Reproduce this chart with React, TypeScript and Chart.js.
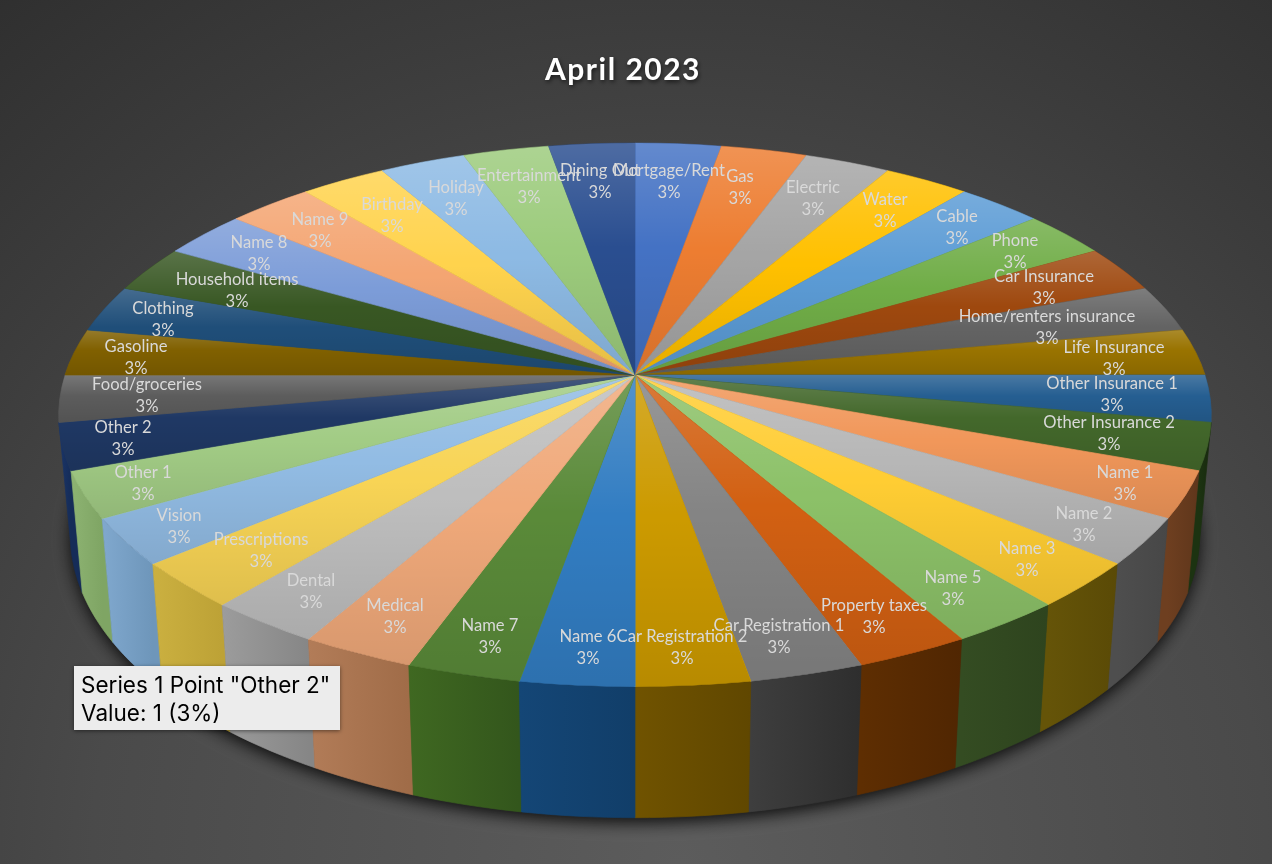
import React, { useEffect, useRef } from "react";
import { Chart, registerables } from "chart.js";

Chart.register(...registerables);

const categories = [
  "Mortgage/Rent", "Gas", "Electric", "Water", "Cable", "Phone", "Car Insurance", "Home/renters insurance",
  "Life Insurance", "Other Insurance 1", "Other Insurance 2", "Name 1", "Name 2", "Name 3", "Name 5",
  "Property taxes", "Car Registration 1", "Car Registration 2", "Name 6", "Name 7", "Medical", "Dental",
  "Prescriptions", "Vision", "Other 1", "Other 2", "Food/groceries", "Gasoline", "Clothing", "Household items",
  "Name 8", "Name 9", "Birthday", "Holiday", "Entertainment", "Dining Out",
];
const values = [1, 1, 1, 1, 1, 1, 1, 1, 1, 1, 1, 1, 1, 1, 1, 1, 1, 1, 1, 1, 1, 1, 1, 1, 1, 1, 1, 1, 1, 1, 1, 1, 1, 1, 1, 1];
const sliceColors = [
  "#4472C4", "#ED7D31", "#A5A5A5", "#FFC000", "#5B9BD5", "#70AD47", "#9E480E", "#636363", "#997300", "#255E91",
  "#43682B", "#F1975A", "#B7B7B7", "#FFCD33", "#8CC168", "#D26012", "#848484", "#CC9A00", "#327DC2", "#5A8A39",
  "#F0A97A", "#BEBEBE", "#F8D455", "#92BCE4", "#A2CC85", "#1F3864", "#5C5C5C", "#806000", "#1F4E79", "#385723",
  "#7C9CD8", "#F4A572", "#FFD34D", "#8DBAE4", "#9CCB7C", "#2A4E90",
];
// side wall colours for slices "Other Insurance 2" .. "Other 2" (the ones that face the viewer)
const firstWall = 10;
const wallLeft = [
  "#1C3311", "#6E3F20", "#4E4E4E", "#655408", "#344C22", "#5E2E02", "#3E3E3E", "#705300",
  "#144676", "#3F6821", "#B27C58", "#9C9C9C", "#CBB040", "#80A8CE", "#8DB372", "#1A3568",
];
const wallRight = [
  "#18290E", "#5F361B", "#474747", "#5A4A06", "#2E441E", "#502602", "#2E2E2E", "#604700",
  "#113E69", "#33561C", "#A06C48", "#868686", "#BDA236", "#6E96BA", "#7FA564", "#152C58",
];
// label layout: centre x, first-line y
const labelX = [669, 740, 813, 885, 957, 1015, 1044, 1047, 1114, 1112, 1109, 1125, 1084, 1027, 953, 874, 779, 682, 588, 490, 395, 311, 261, 179, 143, 123, 147, 136, 163, 237, 259, 320, 392, 456, 529, 600];
const labelY = [171, 177, 188, 200, 217, 241, 277, 317, 348, 384, 423, 473, 514, 549, 578, 606, 626, 637, 637, 626, 606, 581, 540, 516, 473, 428, 385, 347, 309, 280, 243, 220, 205, 188, 176, 171];
const tooltipCategory = "Other 2";
const titleText = "April 2023";

// perspective of the disc
const cx = 635, cy = 375, Rx = 570, Ry = 266, k = 0.147;
const project = (a: number, f = 1) => {
  const u = Math.cos(a) * f, v = Math.sin(a) * f, w = 1 / (1 - k * v);
  return { x: cx + Rx * u * w, y: cy + Ry * v * w };
};
const lower = (p: { x: number; y: number }) => ({ x: cx + 0.98 * (p.x - cx), y: 1.042 * p.y + 102 });

const disc3d = {
  id: "disc3d",
  beforeDraw(chart: any) {
    const { ctx, width, height } = chart;
    const g = ctx.createRadialGradient(680, 864, 0, 680, 864, 1130);
    g.addColorStop(0, "#5c5c5c");
    g.addColorStop(0.52, "#4a4a4a");
    g.addColorStop(0.75, "#3c3c3c");
    g.addColorStop(1, "#2e2e2e");
    ctx.fillStyle = g;
    ctx.fillRect(0, 0, width, height);
    ctx.shadowColor = "rgba(0,0,0,0.6)";
    ctx.shadowBlur = 4;
    ctx.shadowOffsetX = 1;
    ctx.shadowOffsetY = 2;
    ctx.letterSpacing = "1.5px";
  },
  beforeDatasetsDraw(chart: any) {
    const { ctx } = chart;
    ctx.shadowColor = "transparent";
    ctx.shadowBlur = 0;
    ctx.shadowOffsetX = 0;
    ctx.shadowOffsetY = 0;
    ctx.letterSpacing = "0px";
  },
  beforeDatasetDraw(chart: any) {
    const { ctx } = chart;
    const arcs = chart.getDatasetMeta(0).data;

    // ground shadow below the drum
    ctx.save();
    ctx.shadowColor = "rgba(10,10,10,0.95)";
    ctx.shadowBlur = 16;
    ctx.shadowOffsetY = 5;
    ctx.fillStyle = "#222";
    ctx.beginPath();
    for (let i = 0; i <= 180; i++) {
      const p = lower(project((i / 180) * Math.PI * 2));
      i ? ctx.lineTo(p.x, p.y) : ctx.moveTo(p.x, p.y);
    }
    ctx.closePath();
    ctx.fill();
    ctx.restore();

    // side walls, from the flanks to the front
    const order = arcs
      .map((_: any, i: number) => i)
      .filter((i: number) => i >= firstWall && i < firstWall + wallLeft.length)
      .sort((a: number, b: number) => Math.sin((arcs[a].startAngle + arcs[a].endAngle) / 2) - Math.sin((arcs[b].startAngle + arcs[b].endAngle) / 2));
    for (const i of order) {
      const { startAngle: a0, endAngle: a1 } = arcs[i];
      const top: any[] = [];
      for (let s = 0; s <= 8; s++) top.push(project(a0 + ((a1 - a0) * s) / 8));
      const xs = top.map((p) => p.x);
      const g = ctx.createLinearGradient(Math.min(...xs), 0, Math.max(...xs), 0);
      g.addColorStop(0, wallLeft[i - firstWall]);
      g.addColorStop(1, wallRight[i - firstWall]);
      ctx.fillStyle = g;
      ctx.strokeStyle = g;
      ctx.lineWidth = 0.7;
      ctx.beginPath();
      top.forEach((p, n) => (n ? ctx.lineTo(p.x, p.y) : ctx.moveTo(p.x, p.y)));
      [...top].reverse().forEach((p) => {
        const q = lower(p);
        ctx.lineTo(q.x, q.y);
      });
      ctx.closePath();
      ctx.fill();
      ctx.stroke();
    }

    // top face: each library arc is drawn through an affine map that fits its wedge to the projected disc
    arcs.forEach((arc: any) => {
      const { x, y, outerRadius: r, startAngle: a0, endAngle: a1 } = arc;
      const sx0 = r * Math.cos(a0), sy0 = r * Math.sin(a0), sx1 = r * Math.cos(a1), sy1 = r * Math.sin(a1);
      const c = project(0, 0), d0 = project(a0), d1 = project(a1);
      const dx0 = d0.x - c.x, dy0 = d0.y - c.y, dx1 = d1.x - c.x, dy1 = d1.y - c.y;
      const det = sx0 * sy1 - sx1 * sy0;
      const ma = (dx0 * sy1 - dx1 * sy0) / det;
      const mc = (dx1 * sx0 - dx0 * sx1) / det;
      const mb = (dy0 * sy1 - dy1 * sy0) / det;
      const md = (dy1 * sx0 - dy0 * sx1) / det;
      ctx.save();
      ctx.transform(ma, mb, mc, md, c.x - ma * x - mc * y, c.y - mb * x - md * y);
      arc.draw(ctx);
      ctx.restore();

      // lighting: every slice has its own vertical sheen over its own height
      const pts = [c];
      for (let s = 0; s <= 8; s++) pts.push(project(a0 + ((a1 - a0) * s) / 8));
      const ys = pts.map((p) => p.y);
      const lg = ctx.createLinearGradient(0, Math.min(...ys), 0, Math.max(...ys));
      lg.addColorStop(0, "rgba(255,255,255,0.17)");
      lg.addColorStop(0.45, "rgba(255,255,255,0)");
      lg.addColorStop(0.46, "rgba(0,0,0,0)");
      lg.addColorStop(1, "rgba(0,0,0,0.1)");
      ctx.fillStyle = lg;
      ctx.beginPath();
      pts.forEach((p, n) => (n ? ctx.lineTo(p.x, p.y) : ctx.moveTo(p.x, p.y)));
      ctx.closePath();
      ctx.fill();
    });
    return false;
  },
  afterDraw(chart: any) {
    const { ctx } = chart;
    const values0 = chart.data.datasets[0].data as number[];
    const total = values0.reduce((s, v) => s + v, 0);
    const pct = (v: number) => `${Math.round((v / total) * 100)}%`;
    ctx.save();
    ctx.font = "16.6px Lato";
    ctx.fillStyle = "#D9D9D9";
    ctx.textAlign = "center";
    ctx.textBaseline = "middle";
    chart.data.labels.forEach((name: string, i: number) => {
      ctx.fillText(name, labelX[i], labelY[i]);
      ctx.fillText(pct(values0[i]), labelX[i], labelY[i] + 22);
    });
    // hover note
    ctx.shadowColor = "rgba(0,0,0,0.5)";
    ctx.shadowBlur = 4;
    ctx.shadowOffsetY = 1;
    ctx.fillStyle = "#ECECEC";
    ctx.fillRect(74, 666, 266, 64);
    ctx.shadowColor = "transparent";
    ctx.fillStyle = "#000";
    ctx.textAlign = "left";
    ctx.font = "22.5px Inter";
    const idx = chart.data.labels.indexOf(tooltipCategory);
    ctx.fillText(`Series 1 Point "${tooltipCategory}"`, 81, 686);
    ctx.fillText(`Value: ${values0[idx]} (${pct(values0[idx])})`, 81, 714);
    ctx.restore();
  },
};

export default function App() {
  const ref = useRef<HTMLCanvasElement>(null);
  useEffect(() => {
    const chart = new Chart(ref.current as HTMLCanvasElement, {
      type: "pie",
      data: {
        labels: categories,
        datasets: [{ label: "Series 1", data: values, backgroundColor: sliceColors, borderColor: sliceColors, borderWidth: 0.6, hoverOffset: 0 }],
      },
      options: {
        animation: false,
        responsive: false,
        events: [],
        layout: { padding: { right: 26 } },
        plugins: {
          legend: { display: false },
          tooltip: { enabled: false },
          title: {
            display: true,
            text: titleText,
            color: "#FFFFFF",
            font: { family: "Lato", size: 30, weight: "bold", lineHeight: 1.2 },
            padding: { top: 52, bottom: 0 },
          },
        },
      },
      plugins: [disc3d],
    } as any);
    return () => chart.destroy();
  }, []);
  return (
    <div style={{ position: "fixed", left: 0, top: 0, width: 1272, height: 864 }}>
      <canvas ref={ref} width={1272} height={864} style={{ display: "block" }} />
    </div>
  );
}
